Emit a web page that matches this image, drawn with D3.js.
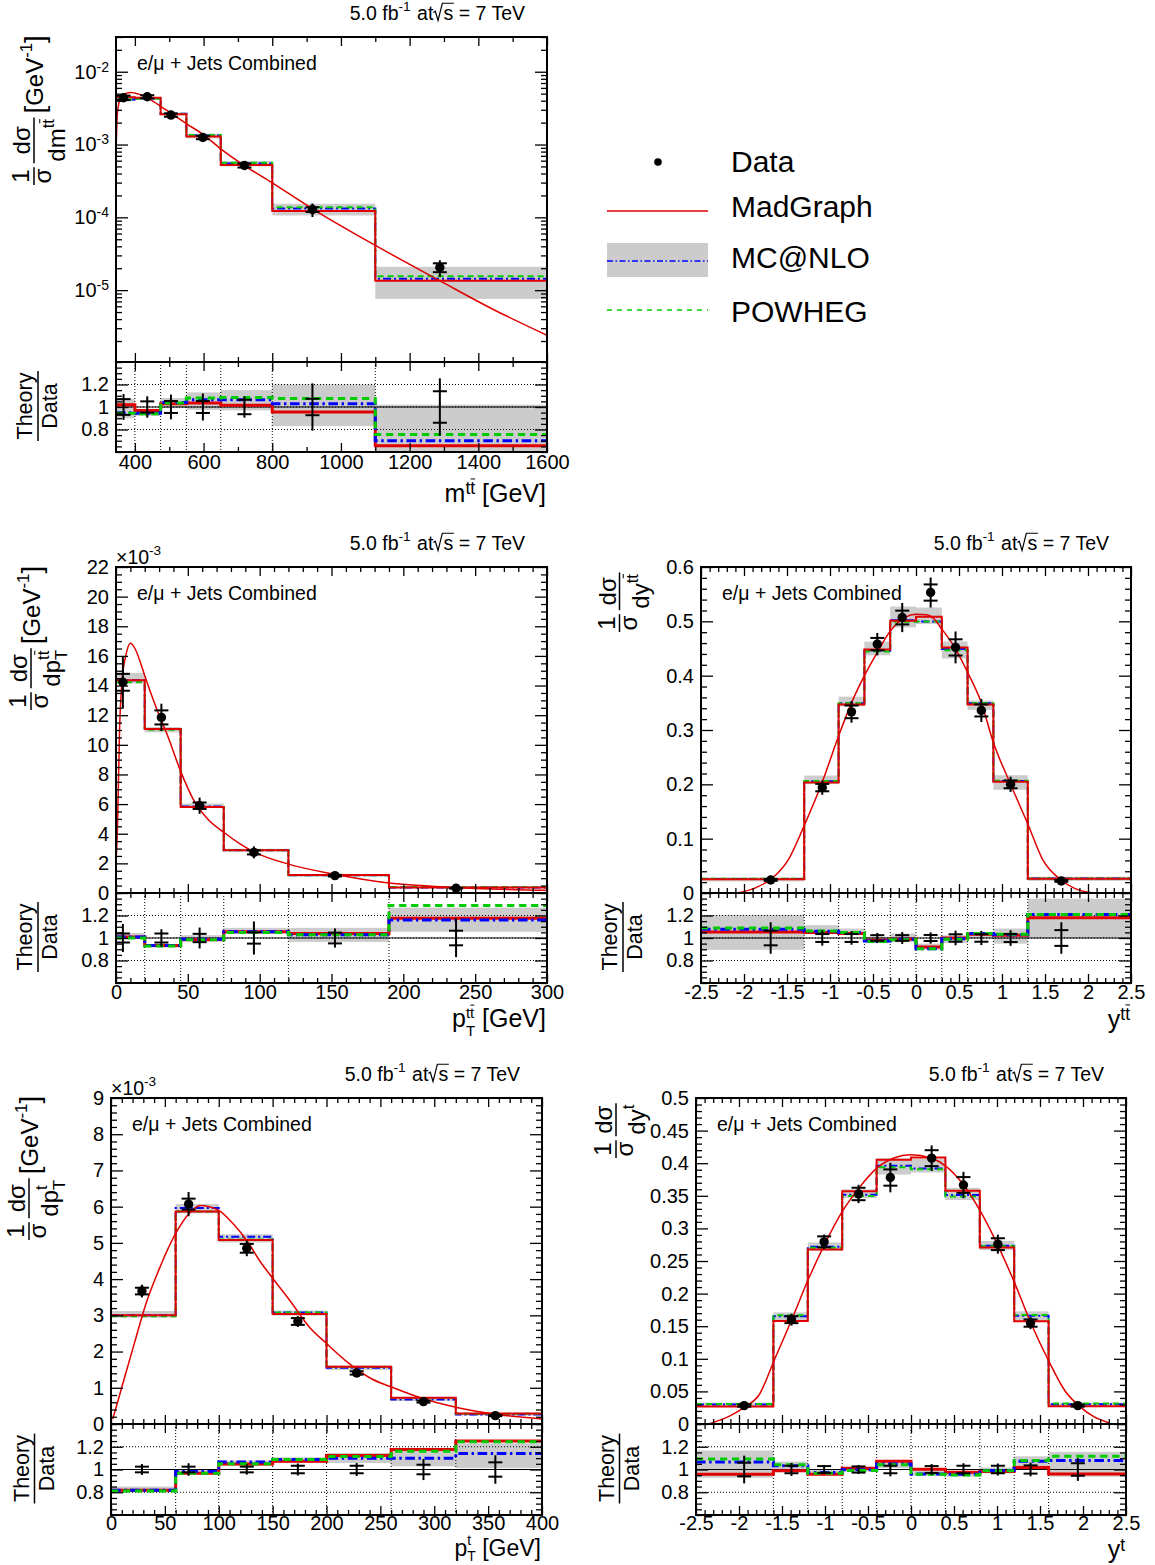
<!DOCTYPE html>
<html>
<head>
<meta charset="utf-8">
<script src="https://cdn.jsdelivr.net/npm/d3@7"></script>
<style>
  body { margin: 0; background: #fff; }
  svg text { font-family: "Liberation Sans", Arial, Helvetica, sans-serif; fill: #000; white-space: pre; }
</style>
</head>
<body>
<script>
// ---------------------------------------------------------------
// Normalised differential cross sections, e/mu + jets, 5.0 fb^-1
// Data points carry stat (tick marks) and total (line) uncertainty,
// theory predictions are stored as ratio to data.
// ---------------------------------------------------------------

// ---- m(tt) ----
const mttEdges       = [345, 400, 475, 550, 650, 800, 1100, 1600];
const mttDataX       = [367, 436, 505, 598, 719, 917, 1288];
const mttData        = [4.39e-3, 4.53e-3, 2.54e-3, 1.25e-3, 5.16e-4, 1.28e-4, 2.05e-5];
const mttStat        = [0.07, 0.05, 0.053, 0.053, 0.064, 0.073, 0.14];
const mttTotal       = [0.115, 0.095, 0.11, 0.12, 0.095, 0.21, 0.255];
const mttMadGraph    = [1.02, 0.97, 1.03, 1.035, 1.015, 0.955, 0.655];
const mttMcAtNlo     = [0.95, 0.945, 1.04, 1.065, 1.065, 1.03, 0.70];
const mttPowheg      = [0.945, 0.94, 1.035, 1.08, 1.085, 1.075, 0.755];
const mttBandLow     = [0.90, 0.92, 0.99, 0.975, 0.97, 0.83, 0.37];
const mttBandHigh    = [1.07, 0.975, 1.08, 1.13, 1.15, 1.20, 1.02];
const mttCurveX      = [345, 349, 358, 374, 389.5, 411, 442, 474, 506, 552, 601, 649, 720, 800, 917, 1099, 1290, 1438, 1600];
const mttCurveY      = [7.2e-4, 2.67e-3, 4.3e-3, 5.04e-3, 5.2e-3, 4.93e-3, 4.2e-3, 3.38e-3, 2.67e-3, 1.91e-3, 1.35e-3, 8.8e-4, 5.1e-4, 2.98e-4, 1.31e-4, 4.15e-5, 1.33e-5, 5.6e-6, 2.4e-6];
const mttXTicks      = [400, 600, 800, 1000, 1200, 1400, 1600];
const mttYTicks      = [1e-5, 1e-4, 1e-3, 1e-2];

// ---- pT(tt) ----
const ptttEdges      = [0, 20, 45, 75, 120, 190, 300];
const ptttDataX      = [4.8, 31.6, 58.2, 96, 152.4, 236.7];
const ptttData       = [14.22e-3, 11.85e-3, 5.89e-3, 2.74e-3, 1.17e-3, 0.32e-3];
const ptttStat       = [0.04, 0.04, 0.037, 0.05, 0.048, 0.065];
const ptttTotal      = [0.125, 0.078, 0.093, 0.147, 0.085, 0.17];
const ptttMadGraph   = [1.01, 0.934, 0.985, 1.055, 1.04, 1.175];
const ptttMcAtNlo    = [1.01, 0.934, 0.99, 1.055, 1.03, 1.16];
const ptttPowheg     = [1.0, 0.93, 0.985, 1.05, 1.03, 1.29];
const ptttBandLow    = [0.995, 0.915, 0.98, 1.04, 0.965, 1.055];
const ptttBandHigh   = [1.045, 0.945, 1.025, 1.09, 1.09, 1.27];
const ptttCurveX     = [0, 1.0, 2.5, 4.3, 6.8, 10.1, 13.2, 17, 20.8, 28.4, 36, 45.3, 53.7, 63.8, 75, 86.6, 96.7, 120, 152, 190, 220, 250, 300];
const ptttCurveY     = [2.0e-3, 4.3e-3, 11.1e-3, 14.4e-3, 16.0e-3, 16.85e-3, 16.5e-3, 15.56e-3, 14.44e-3, 12.4e-3, 10.6e-3, 8.14e-3, 6.34e-3, 5.0e-3, 4.1e-3, 3.3e-3, 2.74e-3, 1.95e-3, 1.27e-3, 0.68e-3, 0.45e-3, 0.31e-3, 0.18e-3];
const ptttXTicks     = [0, 50, 100, 150, 200, 250, 300];
const ptttYTicks     = [0, 2e-3, 4e-3, 6e-3, 8e-3, 10e-3, 12e-3, 14e-3, 16e-3, 18e-3, 20e-3, 22e-3];

// ---- y(tt) ----
const yttEdges       = [-2.5, -1.3, -0.9, -0.6, -0.3, 0, 0.3, 0.6, 0.9, 1.3, 2.5];
const yttDataX       = [-1.69, -1.09, -0.75, -0.45, -0.16, 0.17, 0.46, 0.76, 1.10, 1.69];
const yttData        = [0.0239, 0.194, 0.3334, 0.458, 0.507, 0.553, 0.452, 0.336, 0.200, 0.0222];
const yttStat        = [0.065, 0.035, 0.035, 0.025, 0.025, 0.027, 0.033, 0.033, 0.036, 0.07];
const yttTotal       = [0.14, 0.068, 0.06, 0.045, 0.053, 0.05, 0.065, 0.063, 0.07, 0.14];
const yttMadGraph    = [1.054, 1.048, 1.04, 0.979, 0.988, 0.919, 1.0, 1.033, 1.024, 1.18];
const yttMcAtNlo     = [1.078, 1.06, 1.048, 0.973, 0.99, 0.904, 0.994, 1.04, 1.03, 1.21];
const yttPowheg      = [1.09, 1.063, 1.048, 0.97, 0.985, 0.904, 0.988, 1.04, 1.033, 1.21];
const yttBandLow     = [0.895, 1.033, 1.03, 0.955, 0.964, 0.895, 0.955, 1.003, 0.95, 1.003];
const yttBandHigh    = [1.205, 1.114, 1.084, 1.01, 1.04, 0.95, 1.024, 1.054, 1.084, 1.35];
const yttCurveX      = [-2.07, -1.86, -1.69, -1.48, -1.30, -1.10, -0.90, -0.75, -0.60, -0.45, -0.30, -0.13, 0, 0.125, 0.2, 0.3, 0.45, 0.6, 0.76, 0.9, 1.10, 1.30, 1.47, 1.69, 1.85, 2.07];
const yttCurveY      = [0, 0.01, 0.025, 0.0625, 0.124, 0.2, 0.289, 0.35, 0.40, 0.443, 0.482, 0.507, 0.513, 0.512, 0.506, 0.486, 0.452, 0.406, 0.35, 0.277, 0.2, 0.127, 0.0625, 0.0235, 0.008, 0];
const yttXTicks      = [-2.5, -2, -1.5, -1, -0.5, 0, 0.5, 1, 1.5, 2, 2.5];
const yttYTicks      = [0, 0.1, 0.2, 0.3, 0.4, 0.5, 0.6];

// ---- pT(t) ----
const pttEdges       = [0, 60, 100, 150, 200, 260, 320, 400];
const pttDataX       = [28.7, 72, 126, 173.4, 228, 290, 356.7];
const pttData        = [3.67e-3, 6.07e-3, 4.85e-3, 2.83e-3, 1.41e-3, 0.618e-3, 0.23e-3];
const pttStat        = [0.025, 0.025, 0.025, 0.033, 0.033, 0.042, 0.063];
const pttTotal       = [0.048, 0.055, 0.045, 0.053, 0.057, 0.093, 0.125];
const pttMadGraph    = [0.818, 0.967, 1.048, 1.072, 1.122, 1.176, 1.25];
const pttMcAtNlo     = [0.818, 0.982, 1.066, 1.087, 1.10, 1.10, 1.14];
const pttPowheg      = [0.81, 0.967, 1.05, 1.087, 1.115, 1.161, 1.245];
const pttBandLow     = [0.80, 0.958, 1.033, 1.057, 1.057, 1.027, 1.012];
const pttBandHigh    = [0.85, 1.0, 1.08, 1.107, 1.146, 1.19, 1.23];
const pttCurveX      = [1.7, 11.8, 22, 32, 45.6, 60, 72.7, 82.8, 91.3, 100.4, 113, 126.8, 138.6, 150.4, 167, 184, 200.5, 221.4, 241.7, 260.3, 285.7, 320, 356.7, 400];
const pttCurveY      = [0.14e-3, 1.2e-3, 2.26e-3, 3.28e-3, 4.34e-3, 5.26e-3, 5.82e-3, 6.03e-3, 6.0e-3, 5.89e-3, 5.54e-3, 5.03e-3, 4.48e-3, 4.01e-3, 3.37e-3, 2.68e-3, 2.21e-3, 1.66e-3, 1.25e-3, 1.02e-3, 0.74e-3, 0.46e-3, 0.27e-3, 0.14e-3];
const pttXTicks      = [0, 50, 100, 150, 200, 250, 300, 350, 400];
const pttYTicks      = [0, 1e-3, 2e-3, 3e-3, 4e-3, 5e-3, 6e-3, 7e-3, 8e-3, 9e-3];

// ---- y(t) ----
const ytEdges        = [-2.5, -1.6, -1.2, -0.8, -0.4, 0, 0.4, 0.8, 1.2, 1.6, 2.5];
const ytDataX        = [-1.94, -1.39, -1.01, -0.61, -0.24, 0.24, 0.61, 1.01, 1.39, 1.94];
const ytData         = [0.0282, 0.160, 0.2794, 0.3528, 0.378, 0.4077, 0.3666, 0.2758, 0.1548, 0.0282];
const ytStat         = [0.06, 0.033, 0.03, 0.027, 0.033, 0.03, 0.033, 0.033, 0.036, 0.055];
const ytTotal        = [0.122, 0.057, 0.04, 0.04, 0.06, 0.048, 0.055, 0.053, 0.06, 0.10];
const ytMadGraph     = [0.958, 0.988, 0.958, 1.012, 1.072, 1.003, 0.976, 0.982, 1.018, 0.961];
const ytMcAtNlo      = [1.066, 1.033, 0.973, 0.997, 1.048, 0.961, 0.958, 0.991, 1.072, 1.08];
const ytPowheg       = [1.093, 1.042, 0.967, 0.991, 1.042, 0.958, 0.952, 0.988, 1.08, 1.116];
const ytBandLow      = [0.928, 0.982, 0.952, 0.982, 1.012, 0.946, 0.937, 0.967, 1.012, 0.937];
const ytBandHigh     = [1.167, 1.07, 0.997, 1.02, 1.078, 0.997, 0.988, 1.018, 1.116, 1.155];
const ytCurveX       = [-2.35, -2.1, -1.94, -1.76, -1.6, -1.39, -1.2, -1.01, -0.8, -0.61, -0.4, -0.2, 0, 0.23, 0.4, 0.61, 0.8, 1.01, 1.2, 1.39, 1.6, 1.79, 1.96, 2.13, 2.3];
const ytCurveY       = [0, 0.0128, 0.0256, 0.046, 0.0948, 0.159, 0.22, 0.274, 0.3256, 0.361, 0.392, 0.408, 0.413, 0.408, 0.396, 0.367, 0.328, 0.274, 0.218, 0.156, 0.097, 0.051, 0.027, 0.011, 0.002];
const ytXTicks       = [-2.5, -2, -1.5, -1, -0.5, 0, 0.5, 1, 1.5, 2, 2.5];
const ytYTicks       = [0, 0.05, 0.1, 0.15, 0.2, 0.25, 0.3, 0.35, 0.4, 0.45, 0.5];

// ---- shared ----
const ratioDomain    = [0.6, 1.4];
const ratioTicks     = [0.8, 1, 1.2];
const legendLabels   = ["Data", "MadGraph", "MC@NLO", "POWHEG"];
const lumiLabel      = "5.0 fb";
const channelLabel   = "e/\u03bc + Jets Combined";

const COL = { mad: "#e00000", mc: "#0000ff", pw: "#00cc00", band: "#cccccc" };
const FONT = '"Liberation Sans", Arial, Helvetica, sans-serif';

const svg = d3.select("body").append("svg")
  .attr("width", 1155).attr("height", 1565)
  .style("font-family", FONT);
svg.append("rect").attr("width", 1155).attr("height", 1565).attr("fill", "#fff");
const defs = svg.append("defs");

// ---------- rich text: one <text> with positioned runs (super/subscripts, bars, radicals) ----------
function richText(parent, parts, opt) {
  const base = opt.size;
  const g = parent.append("g");
  const text = g.append("text");
  let cx = 0, lastStart = 0;
  parts.forEach(p => {
    const size = base * (p.s || 1);
    const dy = (p.dy || 0) * base;
    const start = p.stack ? lastStart : cx + (p.gap || 0) * base;
    const rw = p.radical ? 0.52 * size : 0;
    const ts = text.append("tspan").attr("x", start + rw).attr("y", dy)
      .attr("font-size", size).text(p.t);
    const node = ts.node();
    const w = node.getComputedTextLength();
    if (p.radical) {
      g.append("path")
        .attr("d", `M${start},${dy - 0.38 * size} L${start + 0.1 * size},${dy - 0.45 * size} L${start + 0.24 * size},${dy + 0.02 * size} L${start + 0.46 * size},${dy - 0.86 * size} L${start + rw + w + 0.03 * size},${dy - 0.86 * size}`)
        .attr("fill", "none").attr("stroke", "#000").attr("stroke-width", 1.2);
    }
    if (p.barLast) {
      const n = p.t.length;
      const s0 = n > 1 ? node.getSubStringLength(0, n - 1) : 0;
      g.append("line")
        .attr("x1", start + s0 + 0.02 * size).attr("x2", start + w)
        .attr("y1", dy - 0.86 * size).attr("y2", dy - 0.86 * size)
        .attr("stroke", "#000").attr("stroke-width", 1);
    }
    lastStart = start;
    cx = Math.max(cx, start + rw + w);
  });
  const off = opt.anchor === "end" ? -cx : opt.anchor === "middle" ? -cx / 2 : 0;
  g.attr("transform", `translate(${(opt.x || 0) + off},${opt.y || 0})`);
  return { g, width: cx };
}

// ---------- rotated axis title made of fractions and text runs ----------
function verticalTitle(cx, bottomY, pieces, size) {
  const g = svg.append("g").attr("transform", `translate(${cx},${bottomY}) rotate(-90)`);
  let u = 0;
  pieces.forEach((pc, k) => {
    if (k) u += (pc.gap !== undefined ? pc.gap : 4);
    if (pc.frac) {
      const num = richText(g, pc.frac[0], { size });
      const den = richText(g, pc.frac[1], { size });
      const w = Math.max(num.width, den.width) + 3;
      num.g.attr("transform", `translate(${u + (w - num.width) / 2},${pc.numY})`);
      den.g.attr("transform", `translate(${u + (w - den.width) / 2},${pc.denY})`);
      g.append("line").attr("x1", u).attr("x2", u + w).attr("y1", 0).attr("y2", 0)
        .attr("stroke", "#000").attr("stroke-width", 1.5);
      u += w;
    } else {
      const t = richText(g, pc.text, { size, x: u, y: pc.y });
      u += t.width;
    }
  });
}

const SUP = { s: 0.7, dy: -0.45 };
const XSUP = { s: 0.7, dy: -0.32 };
const SUB = { s: 0.7, dy: 0.3 };

function lumiText(xr, yb) {
  richText(svg, [
    { t: lumiLabel },
    { t: "-1", ...SUP },
    { t: " at", gap: 0.05 },
    { t: "s", radical: true },
    { t: " = 7 TeV" }
  ], { size: 19.5, x: xr, y: yb, anchor: "end" });
}

function styleAxis(g) {
  g.select(".domain").remove();
  g.attr("font-size", 20).attr("font-family", FONT);
  g.selectAll(".tick line").attr("stroke", "#000").attr("stroke-width", 1.3);
  g.selectAll(".tick text").attr("fill", "#000");
}

function linMinor(domain, step, majors) {
  const out = [];
  const n = Math.round((domain[1] - domain[0]) / step);
  for (let i = 0; i <= n; i++) {
    const v = domain[0] + i * step;
    if (!majors.some(m => Math.abs(m - v) < step * 1e-3)) out.push(v);
  }
  return out;
}

const numFmt = d => String(+d.toFixed(3));

// ---------- one measurement: main pad + ratio pad ----------
function drawPanel(P) {
  const { x0, x1, y0, y1, r1 } = P.box;
  const r0 = y1;
  const x = d3.scaleLinear().domain(P.xDomain).range([x0, x1]);
  const y = (P.log ? d3.scaleLog() : d3.scaleLinear()).domain(P.yDomain).range([y1, y0]);
  const yr = d3.scaleLinear().domain(ratioDomain).range([r1, r0]);
  const n = P.data.length;
  const bins = d3.range(n).map(i => ({ lo: P.edges[i], hi: P.edges[i + 1], i }));

  defs.append("clipPath").attr("id", "cm" + P.id).append("rect")
    .attr("x", x0).attr("y", y0).attr("width", x1 - x0).attr("height", y1 - y0);
  defs.append("clipPath").attr("id", "cr" + P.id).append("rect")
    .attr("x", x0).attr("y", r0).attr("width", x1 - x0).attr("height", r1 - r0);

  const stepLine = (vals, ys) => d3.line().curve(d3.curveStepAfter)
    .x(d => x(d[0])).y(d => ys(d[1]))([...vals.map((v, i) => [P.edges[i], v]), [P.edges[n], vals[n - 1]]]);

  const sMad = { vals: P.mad, color: COL.mad, dash: null };
  const sMc = { vals: P.mc, color: COL.mc, dash: "8,3,2,3" };
  const sPw = { vals: P.pw, color: COL.pw, dash: "6,4" };

  // ----- main pad -----
  const gm = svg.append("g").attr("clip-path", `url(#cm${P.id})`);
  gm.selectAll("rect").data(bins).join("rect")
    .attr("x", b => x(b.lo)).attr("width", b => x(b.hi) - x(b.lo))
    .attr("y", b => y(P.bandHigh[b.i] * P.data[b.i]))
    .attr("height", b => y(P.bandLow[b.i] * P.data[b.i]) - y(P.bandHigh[b.i] * P.data[b.i]))
    .attr("fill", COL.band);
  [sMc, sPw, sMad].forEach(s => {
    gm.append("path")
      .attr("d", stepLine(s.vals.map((r, i) => r * P.data[i]), y))
      .attr("fill", "none").attr("stroke", s.color).attr("stroke-width", 2)
      .attr("stroke-dasharray", s.dash);
  });
  gm.append("path")
    .datum(P.curveX.map((v, i) => [v, P.curveY[i]]))
    .attr("d", d3.line().curve(d3.curveMonotoneX).x(d => x(d[0])).y(d => y(d[1])))
    .attr("fill", "none").attr("stroke", COL.mad).attr("stroke-width", 1.5);

  const pts = d3.range(n).map(i => ({ x: P.dataX[i], v: P.data[i], s: P.stat[i], t: P.total[i] }));
  const gp = svg.append("g").attr("clip-path", `url(#cm${P.id})`).attr("stroke", "#000").attr("stroke-width", 2);
  pts.forEach(p => {
    const px = x(p.x);
    gp.append("line").attr("x1", px).attr("x2", px).attr("y1", y(p.v * (1 - p.t))).attr("y2", y(p.v * (1 + p.t)));
    [1 - p.s, 1 + p.s].forEach(f => gp.append("line")
      .attr("x1", px - 7).attr("x2", px + 7).attr("y1", y(p.v * f)).attr("y2", y(p.v * f)));
  });
  svg.append("g").selectAll("circle").data(pts).join("circle")
    .attr("cx", p => x(p.x)).attr("cy", p => y(p.v)).attr("r", 4.7).attr("fill", "#000");

  // ----- ratio pad -----
  const gr = svg.append("g").attr("clip-path", `url(#cr${P.id})`);
  gr.selectAll("rect").data(bins).join("rect")
    .attr("x", b => x(b.lo)).attr("width", b => x(b.hi) - x(b.lo))
    .attr("y", b => yr(P.bandHigh[b.i]))
    .attr("height", b => yr(P.bandLow[b.i]) - yr(P.bandHigh[b.i]))
    .attr("fill", COL.band);
  // grid
  P.edges.slice(1, -1).forEach(e => gr.append("line")
    .attr("x1", x(e)).attr("x2", x(e)).attr("y1", r0).attr("y2", r1)
    .attr("stroke", "#000").attr("stroke-width", 1).attr("stroke-dasharray", "1,2"));
  ratioTicks.forEach(t => gr.append("line")
    .attr("x1", x0).attr("x2", x1).attr("y1", yr(t)).attr("y2", yr(t))
    .attr("stroke", "#000").attr("stroke-width", 1).attr("stroke-dasharray", "1,2"));
  gr.append("line").attr("x1", x0).attr("x2", x1).attr("y1", yr(1)).attr("y2", yr(1))
    .attr("stroke", "#000").attr("stroke-width", 1);
  [sMad, sMc, sPw].forEach(s => {
    gr.append("path").attr("d", stepLine(s.vals, yr))
      .attr("fill", "none").attr("stroke", s.color).attr("stroke-width", 3)
      .attr("stroke-dasharray", s.dash ? s.dash.split(",").map(v => +v * 1.2).join(",") : null);
  });
  const gq = svg.append("g").attr("clip-path", `url(#cr${P.id})`).attr("stroke", "#000").attr("stroke-width", 2);
  pts.forEach(p => {
    const px = x(p.x);
    gq.append("line").attr("x1", px).attr("x2", px).attr("y1", yr(1 - p.t)).attr("y2", yr(1 + p.t));
    [1 - p.s, 1 + p.s].forEach(f => gq.append("line")
      .attr("x1", px - 7).attr("x2", px + 7).attr("y1", yr(f)).attr("y2", yr(f)));
  });

  // ----- axes (ticks inside on every side) -----
  const xMinor = linMinor(P.xDomainTicks || P.xDomain, P.xMinorStep, P.xTicks).filter(v => v >= P.xDomain[0] && v <= P.xDomain[1]);
  [[y0, d3.axisTop], [y1, d3.axisBottom], [r0, d3.axisTop]].forEach(([yy, ax]) => {
    svg.append("g").attr("transform", `translate(0,${yy})`)
      .call(ax(x).tickValues(P.xTicks).tickSize(-9).tickFormat("")).call(styleAxis);
    svg.append("g").attr("transform", `translate(0,${yy})`)
      .call(ax(x).tickValues(xMinor).tickSize(-5).tickFormat("")).call(styleAxis);
  });
  svg.append("g").attr("transform", `translate(0,${r1})`)
    .call(d3.axisBottom(x).tickValues(P.xTicks).tickSize(-9).tickPadding(P.labelPad).tickFormat(numFmt)).call(styleAxis);
  svg.append("g").attr("transform", `translate(0,${r1})`)
    .call(d3.axisBottom(x).tickValues(xMinor).tickSize(-5).tickFormat("")).call(styleAxis);

  // main y
  const yl = svg.append("g").attr("transform", `translate(${x0},0)`)
    .call(d3.axisLeft(y).tickValues(P.yTicks).tickSize(-12).tickPadding(7).tickFormat(P.log ? () => "" : P.yFmt))
    .call(styleAxis);
  if (P.log) {
    yl.selectAll(".tick text").each(function (d) {
      const e = Math.round(Math.log10(d));
      const t = d3.select(this);
      t.append("tspan").text("10");
      t.append("tspan").attr("dy", "-0.5em").attr("font-size", 14).text(String(e));
    });
  }
  svg.append("g").attr("transform", `translate(${x0},0)`)
    .call(d3.axisLeft(y).tickValues(P.yMinor).tickSize(-6).tickFormat("")).call(styleAxis);
  svg.append("g").attr("transform", `translate(${x1},0)`)
    .call(d3.axisRight(y).tickValues(P.yTicks).tickSize(-12).tickFormat("")).call(styleAxis);
  svg.append("g").attr("transform", `translate(${x1},0)`)
    .call(d3.axisRight(y).tickValues(P.yMinor).tickSize(-6).tickFormat("")).call(styleAxis);

  // ratio y
  const rMinor = linMinor(ratioDomain, 0.05, ratioTicks);
  svg.append("g").attr("transform", `translate(${x0},0)`)
    .call(d3.axisLeft(yr).tickValues(ratioTicks).tickSize(-12).tickPadding(7).tickFormat(numFmt)).call(styleAxis);
  svg.append("g").attr("transform", `translate(${x0},0)`)
    .call(d3.axisLeft(yr).tickValues(rMinor).tickSize(-6).tickFormat("")).call(styleAxis);
  svg.append("g").attr("transform", `translate(${x1},0)`)
    .call(d3.axisRight(yr).tickValues(ratioTicks).tickSize(-12).tickFormat("")).call(styleAxis);
  svg.append("g").attr("transform", `translate(${x1},0)`)
    .call(d3.axisRight(yr).tickValues(rMinor).tickSize(-6).tickFormat("")).call(styleAxis);

  // frames
  svg.append("rect").attr("x", x0).attr("y", y0).attr("width", x1 - x0).attr("height", y1 - y0)
    .attr("fill", "none").attr("stroke", "#000").attr("stroke-width", 2);
  svg.append("rect").attr("x", x0).attr("y", r0).attr("width", x1 - x0).attr("height", r1 - r0)
    .attr("fill", "none").attr("stroke", "#000").attr("stroke-width", 2);

  // labels
  lumiText(x1 - 22, y0 - 17);
  svg.append("text").attr("x", x0 + 21).attr("y", y0 + 33).attr("font-size", 19.5).text(channelLabel);
  if (P.multiplier) {
    richText(svg, [{ t: "\u00d710" }, { t: P.multiplier, ...SUP }], { size: 19.5, x: x0, y: y0 - 3 });
  }
  richText(svg, P.xTitle, { size: P.xTitleSize || 25, x: x1 - 1, y: r1 + P.xTitleDy, anchor: "end" });
  verticalTitle(P.yTitlePos[0], P.yTitlePos[1], P.yTitle, 24);
  verticalTitle(P.ratioTitleX, (r0 + r1) / 2 + 34, [
    { frac: [[{ t: "Theory" }], [{ t: "Data" }]], numY: -6, denY: 19 }
  ], 21.5);
}

// ---------- title pieces ----------
const oneOverSigma = { frac: [[{ t: "1" }], [{ t: "\u03c3" }]], numY: -5, denY: 17 };
const gevInv = { text: [{ t: "[", s: 1.15, dy: 0.04 }, { t: "GeV" }, { t: "-1", ...SUP }, { t: "]", s: 1.15, dy: 0.04 }], y: 9 };
const tt = (extra) => ({ t: "tt", barLast: true, ...SUP, ...extra });
const xtt = (extra) => ({ t: "tt", barLast: true, ...XSUP, ...extra });

drawPanel({
  id: "mtt", box: { x0: 116, x1: 547, y0: 37, y1: 362, r1: 452 },
  xDomain: [345, 1600], yDomain: [1.03e-6, 3.0e-2], log: true,
  xTicks: mttXTicks, xMinorStep: 100, xDomainTicks: [400, 1600], labelPad: 3,
  yTicks: mttYTicks,
  yMinor: (() => { const o = []; for (let e = -6; e <= -2; e++) for (let k = 2; k <= 9; k++) { const v = k * Math.pow(10, e); if (v >= 1.03e-6 && v <= 3.0e-2) o.push(v); } return o; })(),
  edges: mttEdges, dataX: mttDataX, data: mttData, stat: mttStat, total: mttTotal,
  mad: mttMadGraph, mc: mttMcAtNlo, pw: mttPowheg, bandLow: mttBandLow, bandHigh: mttBandHigh,
  curveX: mttCurveX, curveY: mttCurveY,
  xTitle: [{ t: "m" }, xtt(), { t: " [GeV]" }], xTitleDy: 50,
  yTitlePos: [34, 185],
  yTitle: [oneOverSigma,
    { frac: [[{ t: "d\u03c3" }], [{ t: "dm" }, tt()]], numY: -4, denY: 31 },
    gevInv],
  ratioTitleX: 38
});

drawPanel({
  id: "pttt", box: { x0: 116, x1: 547, y0: 567, y1: 893, r1: 983 },
  xDomain: [0, 300], yDomain: [0, 0.022],
  xTicks: ptttXTicks, xMinorStep: 10, labelPad: 2,
  yTicks: ptttYTicks, yMinor: linMinor([0, 0.022], 0.0005, ptttYTicks),
  yFmt: d => String(Math.round(d * 1000)), multiplier: "-3",
  edges: ptttEdges, dataX: ptttDataX, data: ptttData, stat: ptttStat, total: ptttTotal,
  mad: ptttMadGraph, mc: ptttMcAtNlo, pw: ptttPowheg, bandLow: ptttBandLow, bandHigh: ptttBandHigh,
  curveX: ptttCurveX, curveY: ptttCurveY,
  xTitle: [{ t: "p" }, { t: "T", s: 0.6, dy: 0.36 }, { t: "tt", barLast: true, s: 0.6, dy: -0.36, stack: true }, { t: " [GeV]" }],
  xTitleDy: 44,
  yTitlePos: [31, 710],
  yTitle: [oneOverSigma,
    { frac: [[{ t: "d\u03c3" }], [{ t: "dp" }, { t: "T", ...SUB }, tt({ stack: true })]], numY: -4, denY: 29 },
    gevInv],
  ratioTitleX: 38
});

drawPanel({
  id: "ytt", box: { x0: 701, x1: 1131, y0: 567, y1: 893, r1: 983 },
  xDomain: [-2.5, 2.5], yDomain: [0, 0.6],
  xTicks: yttXTicks, xMinorStep: 0.1, labelPad: 2,
  yTicks: yttYTicks, yMinor: linMinor([0, 0.6], 0.02, yttYTicks), yFmt: numFmt,
  edges: yttEdges, dataX: yttDataX, data: yttData, stat: yttStat, total: yttTotal,
  mad: yttMadGraph, mc: yttMcAtNlo, pw: yttPowheg, bandLow: yttBandLow, bandHigh: yttBandHigh,
  curveX: yttCurveX, curveY: yttCurveY,
  xTitle: [{ t: "y" }, xtt()], xTitleDy: 45,
  yTitlePos: [619.5, 632],
  yTitle: [oneOverSigma,
    { frac: [[{ t: "d\u03c3" }], [{ t: "dy" }, tt()]], numY: -4, denY: 29 }],
  ratioTitleX: 623
});

drawPanel({
  id: "ptt", box: { x0: 111, x1: 542, y0: 1098, y1: 1424, r1: 1515 },
  xDomain: [0, 400], yDomain: [0, 0.009],
  xTicks: pttXTicks, xMinorStep: 10, labelPad: 1,
  yTicks: pttYTicks, yMinor: linMinor([0, 0.009], 0.0002, pttYTicks),
  yFmt: d => String(Math.round(d * 1000)), multiplier: "-3",
  edges: pttEdges, dataX: pttDataX, data: pttData, stat: pttStat, total: pttTotal,
  mad: pttMadGraph, mc: pttMcAtNlo, pw: pttPowheg, bandLow: pttBandLow, bandHigh: pttBandHigh,
  curveX: pttCurveX, curveY: pttCurveY,
  xTitle: [{ t: "p" }, { t: "T", s: 0.6, dy: 0.22 }, { t: "t", s: 0.6, dy: -0.48, stack: true }, { t: " [GeV]" }],
  xTitleDy: 41, xTitleSize: 23,
  yTitlePos: [29, 1240],
  yTitle: [oneOverSigma,
    { frac: [[{ t: "d\u03c3" }], [{ t: "dp" }, { t: "T", ...SUB }, { t: "t", ...SUP, stack: true }]], numY: -4, denY: 29 },
    gevInv],
  ratioTitleX: 34.5
});

drawPanel({
  id: "yt", box: { x0: 696, x1: 1126, y0: 1098, y1: 1424, r1: 1515 },
  xDomain: [-2.5, 2.5], yDomain: [0, 0.5],
  xTicks: ytXTicks, xMinorStep: 0.1, labelPad: 1,
  yTicks: ytYTicks, yMinor: linMinor([0, 0.5], 0.01, ytYTicks), yFmt: numFmt,
  edges: ytEdges, dataX: ytDataX, data: ytData, stat: ytStat, total: ytTotal,
  mad: ytMadGraph, mc: ytMcAtNlo, pw: ytPowheg, bandLow: ytBandLow, bandHigh: ytBandHigh,
  curveX: ytCurveX, curveY: ytCurveY,
  xTitle: [{ t: "y" }, { t: "t", s: 0.7, dy: -0.3 }], xTitleDy: 43,
  yTitlePos: [616, 1158],
  yTitle: [oneOverSigma,
    { frac: [[{ t: "d\u03c3" }], [{ t: "dy" }, { t: "t", ...SUP }]], numY: -4, denY: 29 }],
  ratioTitleX: 619.5
});

// ---------- legend ----------
const leg = svg.append("g");
const legRows = [172, 217, 268, 322];
leg.append("circle").attr("cx", 658).attr("cy", 162).attr("r", 3.8).attr("fill", "#000");
leg.append("line").attr("x1", 607).attr("x2", 708).attr("y1", 211).attr("y2", 211)
  .attr("stroke", COL.mad).attr("stroke-width", 1.6);
leg.append("rect").attr("x", 607).attr("y", 243).attr("width", 101).attr("height", 34).attr("fill", COL.band);
leg.append("line").attr("x1", 607).attr("x2", 708).attr("y1", 261).attr("y2", 261)
  .attr("stroke", COL.mc).attr("stroke-width", 1.5).attr("stroke-dasharray", "6,2.5,1.5,2.5");
leg.append("line").attr("x1", 607).attr("x2", 708).attr("y1", 310).attr("y2", 310)
  .attr("stroke", COL.pw).attr("stroke-width", 1.5).attr("stroke-dasharray", "5,5");
legendLabels.forEach((l, i) => leg.append("text").attr("x", 731).attr("y", legRows[i]).attr("font-size", 30).text(l));
</script>
</body>
</html>
